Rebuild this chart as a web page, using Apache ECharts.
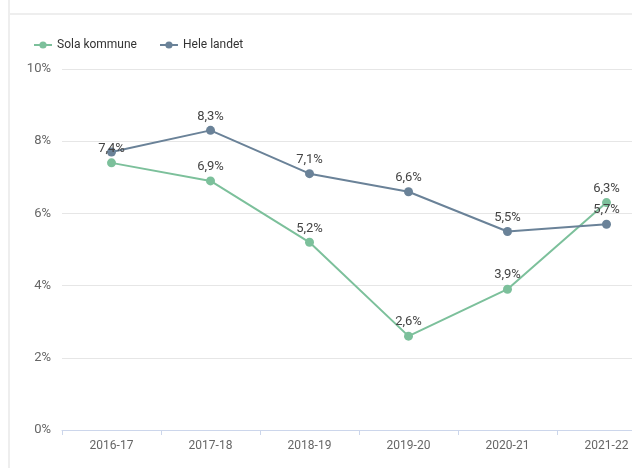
<!DOCTYPE html>
<html>
<head>
<meta charset="utf-8">
<script src="https://cdn.jsdelivr.net/npm/echarts@6/dist/echarts.min.js"></script>
<style>
  html, body { margin: 0; padding: 0; width: 632px; height: 468px; overflow: hidden; background: #fff; }
  .frame { position: absolute; left: 8px; top: 0; width: 700px; height: 468px; border-left: 2px solid #eeeeee; }
  .topline { position: absolute; left: 10px; top: 13px; width: 700px; height: 2px; background: #eeeeee; }
  #chart { position: absolute; left: 10px; top: 15px; width: 700px; height: 453px; }
</style>
</head>
<body>
<div class="frame"></div>
<div class="topline"></div>
<div id="chart"></div>
<script>
const categories = ['2016-17', '2017-18', '2018-19', '2019-20', '2020-21', '2021-22']
const solaValues = [7.4, 6.9, 5.2, 2.6, 3.9, 6.3]
const heleValues = [7.7, 8.3, 7.1, 6.6, 5.5, 5.7]
// labels hidden where they collide in the original (first Hele landet point)
const heleHiddenLabels = [0]

const fmt = (v) => v.toFixed(1).replace('.', ',') + '%'

const chart = echarts.init(document.getElementById('chart'))

const lineSeries = (name, values, color, hidden = []) => ({
  name,
  type: 'line',
  data: values.map((v, i) => (hidden.includes(i) ? { value: v, label: { show: false } } : v)),
  symbol: 'circle',
  symbolSize: 9,
  lineStyle: { width: 2, color },
  itemStyle: { color },
  label: {
    show: true,
    position: 'top',
    distance: 3,
    color: '#444',
    fontSize: 13,
    fontFamily: 'Roboto',
    formatter: (p) => fmt(p.value),
  },
  emphasis: { disabled: true },
})

chart.setOption({
  animation: false,
  backgroundColor: '#fff',
  legend: {
    left: 18,
    top: 19,
    itemWidth: 18,
    itemHeight: 9,
    itemGap: 22,
    textStyle: { color: '#333', fontSize: 12, fontFamily: 'Roboto' },
    data: ['Sola kommune', 'Hele landet'],
  },
  grid: { left: 52, right: 54, top: 54, bottom: 38 },
  xAxis: {
    type: 'category',
    data: categories,
    boundaryGap: true,
    axisLine: { lineStyle: { color: '#ccd6eb', width: 1 } },
    axisTick: { show: true, length: 5, lineStyle: { color: '#ccd6eb' } },
    axisLabel: { color: '#666', fontSize: 12, fontFamily: 'Roboto', margin: 10 },
  },
  yAxis: {
    type: 'value',
    min: 0,
    max: 10,
    interval: 2,
    axisLine: { show: false },
    axisTick: { show: false },
    splitLine: { lineStyle: { color: '#e6e6e6' } },
    axisLabel: { color: '#666', fontSize: 13, fontFamily: 'Roboto', margin: 11, formatter: (v) => v + '%' },
  },
  series: [
    lineSeries('Sola kommune', solaValues, '#7cc09b'),
    lineSeries('Hele landet', heleValues, '#6a8298', heleHiddenLabels),
  ],
})
</script>
</body>
</html>
